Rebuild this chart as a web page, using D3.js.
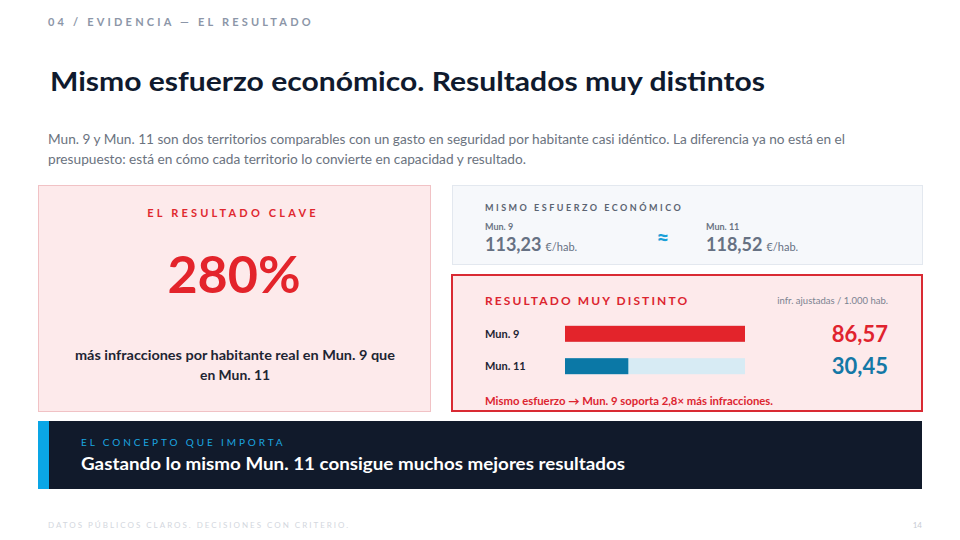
<!DOCTYPE html>
<html>
<head>
<meta charset="utf-8">
<script src="https://cdn.jsdelivr.net/npm/d3@7"></script>
<style>
  body { margin: 0; background: #fff; }
  text { font-family: Lato, "Open Sans", sans-serif; }
</style>
</head>
<body>
<script>
// datos
var municipios = ["Mun. 9", "Mun. 11"];
var gasto = [113.23, 118.52];          // €/hab.
var infracciones = [86.57, 30.45];     // infr. ajustadas / 1.000 hab.
var resultadoClave = "280%";
var ratio = "2,8×";

var width = 960, height = 540;
var fmt = d3.formatLocale({decimal: ",", thousands: ".", grouping: [3], currency: ["", "€"]}).format(",.2f");

var svg = d3.select("body").append("svg")
  .attr("width", width)
  .attr("height", height);

// cabecera
svg.append("text").attr("x", 48).attr("y", 26)
  .attr("font-size", 11).attr("font-weight", 700).attr("letter-spacing", 3.2)
  .attr("fill", "#8c96a8").text("04 / EVIDENCIA — EL RESULTADO");

svg.append("text").attr("x", 50).attr("y", 91)
  .attr("font-size", 27).attr("font-weight", 700).attr("fill", "#0f1a2e")
  .attr("textLength", 715).attr("lengthAdjust", "spacingAndGlyphs")
  .text("Mismo esfuerzo económico. Resultados muy distintos");

var sub = [
  "Mun. 9 y Mun. 11 son dos territorios comparables con un gasto en seguridad por habitante casi idéntico. La diferencia ya no está en el",
  "presupuesto: está en cómo cada territorio lo convierte en capacidad y resultado."
];
var subW = [797, 478];
svg.selectAll(".sub").data(sub).enter().append("text")
  .attr("class", "sub")
  .attr("x", 48).attr("y", (d, i) => 144 + i * 20)
  .attr("font-size", 12.5).attr("fill", "#6b7380")
  .attr("textLength", (d, i) => subW[i]).attr("lengthAdjust", "spacingAndGlyphs")
  .text(d => d);

// tarjeta izquierda
var left = svg.append("g");
left.append("rect").attr("x", 38.5).attr("y", 185.5).attr("width", 392).attr("height", 226)
  .attr("fill", "#fdeaeb").attr("stroke", "#f1c2c5");
left.append("text").attr("x", 233).attr("y", 217).attr("text-anchor", "middle")
  .attr("font-size", 11).attr("font-weight", 700).attr("letter-spacing", 3.2)
  .attr("fill", "#e0282f").text("EL RESULTADO CLAVE");
left.append("text").attr("x", 234).attr("y", 293).attr("text-anchor", "middle")
  .attr("font-size", 52).attr("font-weight", 700).attr("fill", "#e3242b")
  .text(resultadoClave);
var expl = ["más infracciones por habitante real en Mun. 9 que", "en Mun. 11"];
var explW = [320, 70];
left.selectAll(".expl").data(expl).enter().append("text")
  .attr("class", "expl")
  .attr("x", 235).attr("y", (d, i) => 360 + i * 20).attr("text-anchor", "middle")
  .attr("font-size", 13.5).attr("font-weight", 700).attr("fill", "#1e2533")
  .attr("textLength", (d, i) => explW[i]).attr("lengthAdjust", "spacingAndGlyphs")
  .text(d => d);

// tarjeta gasto
var gcard = svg.append("g");
gcard.append("rect").attr("x", 452.5).attr("y", 185.5).attr("width", 470).attr("height", 79)
  .attr("fill", "#f6f8fb").attr("stroke", "#e3e8ef");
gcard.append("text").attr("x", 485).attr("y", 211)
  .attr("font-size", 9).attr("font-weight", 700).attr("letter-spacing", 2.5)
  .attr("fill", "#5b6472").text("MISMO ESFUERZO ECONÓMICO");
var gx = d3.scaleOrdinal().domain(municipios).range([485, 706]);
var gg = gcard.selectAll(".gasto").data(municipios).enter().append("g")
  .attr("class", "gasto")
  .attr("transform", d => `translate(${gx(d)},0)`);
gg.append("text").attr("y", 230).attr("font-size", 9).attr("font-weight", 700)
  .attr("fill", "#6b7483").text(d => d);
var gv = gg.append("text").attr("y", 251).attr("fill", "#667183");
gv.append("tspan").attr("font-size", 18).attr("font-weight", 700).text((d, i) => fmt(gasto[i]));
gv.append("tspan").attr("font-size", 11).attr("dx", 4).text("€/hab.");
gcard.append("text").attr("x", 663).attr("y", 246).attr("text-anchor", "middle")
  .attr("font-size", 22).attr("font-weight", 700).attr("fill", "#1aa0d8").text("≈");

// tarjeta resultado
var res = svg.append("g");
res.append("rect").attr("x", 452).attr("y", 275).attr("width", 470).attr("height", 136)
  .attr("fill", "#fdeaeb").attr("stroke", "#d92a33").attr("stroke-width", 2);
res.append("text").attr("x", 485).attr("y", 305)
  .attr("font-size", 12).attr("font-weight", 700).attr("letter-spacing", 2.1)
  .attr("fill", "#dc2530").text("RESULTADO MUY DISTINTO");
res.append("text").attr("x", 888).attr("y", 304).attr("text-anchor", "end")
  .attr("font-size", 9.5).attr("fill", "#7b8391").text("infr. ajustadas / 1.000 hab.");

var x = d3.scaleLinear().domain([0, d3.max(infracciones)]).range([565, 745]);
var y = d3.scaleBand().domain(municipios).range([316, 384]).paddingInner(0.06).paddingOuter(0.08);
var barColor = ["#e3242b", "#0b78a6"];
var valColor = ["#e0232e", "#1478a6"];
var bh = 16;

var rows = res.selectAll(".row").data(municipios).enter().append("g")
  .attr("class", "row")
  .attr("transform", d => `translate(0,${y(d) + y.bandwidth() / 2})`);
rows.append("text").attr("x", 485).attr("y", 4)
  .attr("font-size", 11).attr("font-weight", 700).attr("fill", "#1e2533").text(d => d);
rows.append("rect").attr("x", x(0)).attr("y", -bh / 2).attr("width", x.range()[1] - x(0)).attr("height", bh)
  .attr("fill", "#d7ebf4");
rows.append("rect").attr("x", x(0)).attr("y", -bh / 2)
  .attr("width", (d, i) => x(infracciones[i]) - x(0)).attr("height", bh)
  .attr("fill", (d, i) => barColor[i]);
rows.append("text").attr("x", 888).attr("y", 8).attr("text-anchor", "end")
  .attr("font-size", 22).attr("font-weight", 700).attr("fill", (d, i) => valColor[i])
  .text((d, i) => fmt(infracciones[i]));

res.append("text").attr("x", 485).attr("y", 405)
  .attr("font-size", 10.5).attr("font-weight", 700).attr("fill", "#dc2530")
  .attr("textLength", 288).attr("lengthAdjust", "spacingAndGlyphs")
  .text(`Mismo esfuerzo → Mun. 9 soporta ${ratio} más infracciones.`);

// banda oscura
var band = svg.append("g");
band.append("rect").attr("x", 38).attr("y", 421).attr("width", 884).attr("height", 68).attr("fill", "#111a2b");
band.append("rect").attr("x", 38).attr("y", 421).attr("width", 11).attr("height", 68).attr("fill", "#0aa6e6");
band.append("text").attr("x", 81).attr("y", 446)
  .attr("font-size", 10).attr("letter-spacing", 2.9).attr("fill", "#1ba6e0")
  .text("EL CONCEPTO QUE IMPORTA");
band.append("text").attr("x", 81).attr("y", 470)
  .attr("font-size", 16.5).attr("font-weight", 700).attr("fill", "#ffffff")
  .attr("textLength", 544).attr("lengthAdjust", "spacingAndGlyphs")
  .text("Gastando lo mismo Mun. 11 consigue muchos mejores resultados");

// pie
svg.append("text").attr("x", 48).attr("y", 528)
  .attr("font-size", 8).attr("letter-spacing", 2).attr("fill", "#d3d7de")
  .text("DATOS PÚBLICOS CLAROS. DECISIONES CON CRITERIO.");
svg.append("text").attr("x", 922).attr("y", 528).attr("text-anchor", "end")
  .attr("font-size", 8).attr("fill", "#c8ccd3").text("14");
</script>
</body>
</html>
